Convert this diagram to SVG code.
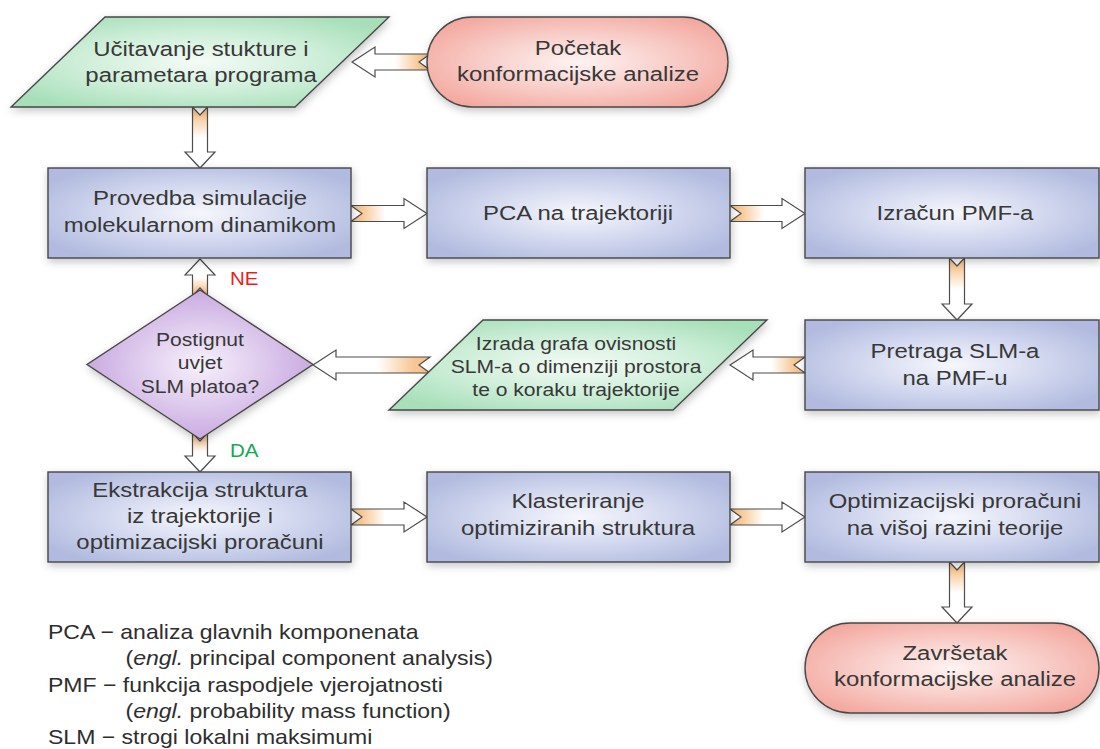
<svg xmlns="http://www.w3.org/2000/svg" width="1100" height="749" viewBox="0 0 1100 749">
<defs>
<style>
.t{font-family:"Liberation Sans",Arial,sans-serif;font-size:21px;fill:#383838;text-anchor:middle}
.ts{font-size:18.5px}
.lg{font-family:"Liberation Sans",Arial,sans-serif;font-size:20.2px;fill:#2e2e2e}
.lbl{font-family:"Liberation Sans",Arial,sans-serif;font-size:18px}
.node{stroke:#474747;stroke-width:1.4;filter:url(#sh)}
.proc{fill:url(#gBlue)}
.io{fill:url(#gGreen)}
.term{fill:url(#gPink)}
.dec{fill:url(#gPurple)}
.arr{stroke:#4d4d4d;stroke-width:1.2;stroke-linejoin:miter}
.ar{fill:url(#aR)}
.al{fill:url(#aL)}
.ad{fill:url(#aD)}
.au{fill:url(#aU)}
</style>
<filter id="sh" x="-15%" y="-25%" width="130%" height="160%">
<feDropShadow dx="1" dy="3" stdDeviation="4" flood-color="#000" flood-opacity="0.24"/>
</filter>
<radialGradient id="gBlue" cx="0.5" cy="0.5" r="0.6">
<stop offset="0" stop-color="#f6f7fc"/><stop offset="0.55" stop-color="#d0d6ee"/><stop offset="1" stop-color="#b2bbdf"/>
</radialGradient>
<radialGradient id="gGreen" cx="0.5" cy="0.5" r="0.6">
<stop offset="0" stop-color="#f4fbf6"/><stop offset="0.55" stop-color="#cdeed8"/><stop offset="1" stop-color="#a7dfb9"/>
</radialGradient>
<radialGradient id="gPink" cx="0.5" cy="0.5" r="0.6">
<stop offset="0" stop-color="#fef3f2"/><stop offset="0.55" stop-color="#f8cbc6"/><stop offset="1" stop-color="#f3a89f"/>
</radialGradient>
<radialGradient id="gPurple" cx="0.5" cy="0.5" r="0.55">
<stop offset="0" stop-color="#f7f1fb"/><stop offset="0.55" stop-color="#dcc7ec"/><stop offset="1" stop-color="#c5a3de"/>
</radialGradient>
<linearGradient id="aR" x1="0" y1="0" x2="1" y2="0">
<stop offset="0" stop-color="#f6bd86"/><stop offset="0.15" stop-color="#f8c897"/><stop offset="0.45" stop-color="#ffffff"/>
</linearGradient>
<linearGradient id="aL" x1="1" y1="0" x2="0" y2="0">
<stop offset="0" stop-color="#f6bd86"/><stop offset="0.15" stop-color="#f8c897"/><stop offset="0.45" stop-color="#ffffff"/>
</linearGradient>
<linearGradient id="aD" x1="0" y1="0" x2="0" y2="1">
<stop offset="0" stop-color="#f6bd86"/><stop offset="0.15" stop-color="#f8c897"/><stop offset="0.5" stop-color="#ffffff"/>
</linearGradient>
<linearGradient id="aU" x1="0" y1="1" x2="0" y2="0">
<stop offset="0" stop-color="#f6bd86"/><stop offset="0.15" stop-color="#f8c897"/><stop offset="0.5" stop-color="#ffffff"/>
</linearGradient>
</defs>
<rect width="1100" height="749" fill="#ffffff"/>

<g id="connectors">
<path class="arr al" d="M430,54 L375,54 L375,47 L352,62 L375,77 L375,70 L430,70 L419,62 Z"/>
<path class="arr ad" d="M192.5,107 L192.5,152 L185,152 L200,168 L215,152 L207.5,152 L207.5,107 L200,115 Z"/>
<path class="arr ar" d="M351,205.5 L404,205.5 L404,198.5 L427,213.5 L404,228.5 L404,221.5 L351,221.5 L362,213.5 Z"/>
<path class="arr ar" d="M730,205.5 L782,205.5 L782,198.5 L805,213.5 L782,228.5 L782,221.5 L730,221.5 L741,213.5 Z"/>
<path class="arr ad" d="M949.5,258 L949.5,304 L942,304 L957,320 L972,304 L964.5,304 L964.5,258 L957,266 Z"/>
<path class="arr al" d="M805,357 L753,357 L753,350 L730,365 L753,380 L753,373 L805,373 L794,365 Z"/>
<path class="arr al" d="M430,357 L336,357 L336,350 L313,365 L336,380 L336,373 L430,373 L419,365 Z"/>
<path class="arr au" d="M192.5,296 L192.5,275 L185,275 L200,259 L215,275 L207.5,275 L207.5,296 L200,288 Z"/>
<path class="arr ad" d="M192.5,433 L192.5,456 L185,456 L200,472 L215,456 L207.5,456 L207.5,433 L200,441 Z"/>
<path class="arr ar" d="M351,509 L404,509 L404,502 L427,517 L404,532 L404,525 L351,525 L362,517 Z"/>
<path class="arr ar" d="M730,509 L782,509 L782,502 L805,517 L782,532 L782,525 L730,525 L741,517 Z"/>
<path class="arr ad" d="M949.5,562 L949.5,607 L942,607 L957,623 L972,607 L964.5,607 L964.5,562 L957,570 Z"/>
<text class="lbl" x="0" y="285" transform="translate(230 0) scale(1.14 1)" fill="#f01c1c">NE</text>
<text class="lbl" x="0" y="457" transform="translate(230 0) scale(1.14 1)" fill="#14a850">DA</text>
</g>

<g id="start">
<rect class="node term" x="427" y="17" width="301" height="90" rx="45" ry="45"/>
<text class="t" transform="translate(578 0) scale(1.14 1)"><tspan x="0" y="55">Početak</tspan><tspan x="0" y="81">konformacijske analize</tspan></text>
</g>

<g id="ucitavanje">
<polygon class="node io" points="105,17 389,17 295,107 11,107"/>
<text class="t" transform="translate(201 0) scale(1.14 1)"><tspan x="0" y="56">Učitavanje stukture i</tspan><tspan x="0" y="82">parametara programa</tspan></text>
</g>

<g id="provedba">
<rect class="node proc" x="48" y="168" width="303" height="90"/>
<text class="t" transform="translate(200 0) scale(1.14 1)"><tspan x="0" y="205.5">Provedba simulacije</tspan><tspan x="0" y="232.5">molekularnom dinamikom</tspan></text>
</g>

<g id="pca">
<rect class="node proc" x="427" y="168" width="303" height="90"/>
<text class="t" transform="translate(578 0) scale(1.14 1)"><tspan x="0" y="220.5">PCA na trajektoriji</tspan></text>
</g>

<g id="izracun">
<rect class="node proc" x="805" y="168" width="294" height="90"/>
<text class="t" transform="translate(955 0) scale(1.14 1)"><tspan x="0" y="220.5">Izračun PMF-a</tspan></text>
</g>

<g id="pretraga">
<rect class="node proc" x="805" y="320" width="294" height="90"/>
<text class="t" transform="translate(955 0) scale(1.14 1)"><tspan x="0" y="358.5">Pretraga SLM-a</tspan><tspan x="0" y="385.5">na PMF-u</tspan></text>
</g>

<g id="izrada">
<polygon class="node io" points="483,320 767,320 673,410 389,410"/>
<text class="t ts" transform="translate(576 0) scale(1.14 1)"><tspan x="0" y="350">Izrada grafa ovisnosti</tspan><tspan x="0" y="373">SLM-a o dimenziji prostora</tspan><tspan x="0" y="396">te o koraku trajektorije</tspan></text>
</g>

<g id="odluka">
<polygon class="node dec" points="200,290 313,364.5 200,439 87,364.5"/>
<text class="t ts" transform="translate(200 0) scale(1.14 1)"><tspan x="0" y="346">Postignut</tspan><tspan x="0" y="369.5">uvjet</tspan><tspan x="0" y="393">SLM platoa?</tspan></text>
</g>

<g id="ekstrakcija">
<rect class="node proc" x="48" y="472" width="303" height="90"/>
<text class="t" transform="translate(200 0) scale(1.14 1)"><tspan x="0" y="496.5">Ekstrakcija struktura</tspan><tspan x="0" y="523">iz trajektorije i</tspan><tspan x="0" y="549.5">optimizacijski proračuni</tspan></text>
</g>

<g id="klasteriranje">
<rect class="node proc" x="427" y="472" width="303" height="90"/>
<text class="t" transform="translate(578 0) scale(1.14 1)"><tspan x="0" y="508.5">Klasteriranje</tspan><tspan x="0" y="535.5">optimiziranih struktura</tspan></text>
</g>

<g id="optimizacija">
<rect class="node proc" x="805" y="472" width="294" height="90"/>
<text class="t" transform="translate(955 0) scale(1.14 1)"><tspan x="0" y="508.5">Optimizacijski proračuni</tspan><tspan x="0" y="535.5">na višoj razini teorije</tspan></text>
</g>

<g id="zavrsetak">
<rect class="node term" x="805" y="623" width="294" height="90" rx="45" ry="45"/>
<text class="t" transform="translate(955 0) scale(1.14 1)"><tspan x="0" y="660">Završetak</tspan><tspan x="0" y="686.5">konformacijske analize</tspan></text>
</g>

<g id="legenda" transform="translate(48 0) scale(1.14 1)">
<text class="lg" x="0" y="639">PCA − analiza glavnih komponenata</text>
<text class="lg" x="68" y="665.5">(<tspan font-style="italic">engl.</tspan> principal component analysis)</text>
<text class="lg" x="0" y="692">PMF − funkcija raspodjele vjerojatnosti</text>
<text class="lg" x="68" y="718">(<tspan font-style="italic">engl.</tspan> probability mass function)</text>
<text class="lg" x="0" y="744">SLM − strogi lokalni maksimumi</text>
</g>
</svg>
